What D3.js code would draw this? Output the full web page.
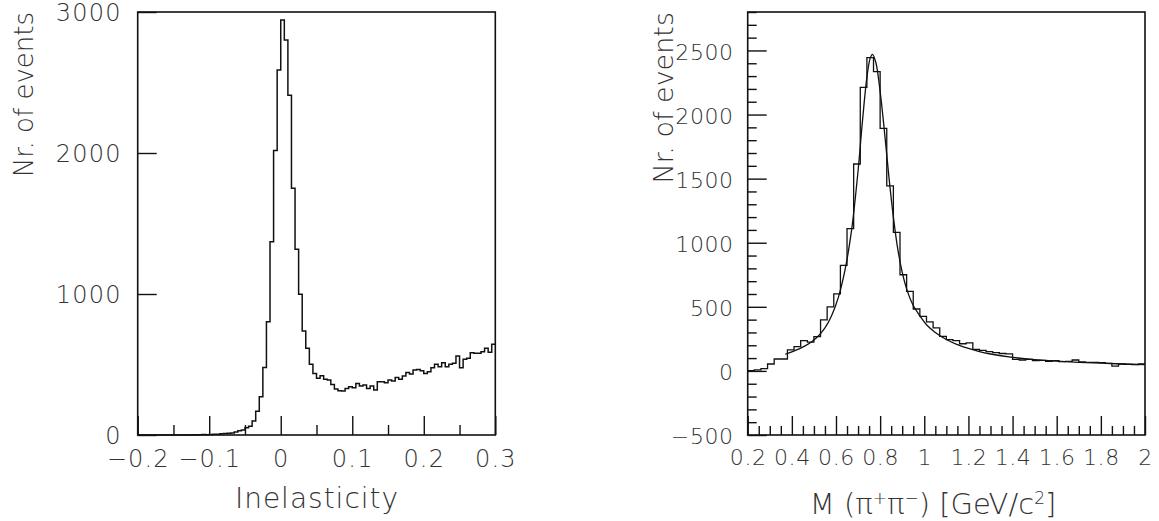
<!DOCTYPE html>
<html>
<head>
<meta charset="utf-8">
<script src="https://cdn.jsdelivr.net/npm/d3@7"></script>
<style>
  body { margin: 0; background: #fff; }
  text { font-family: "DejaVu Sans", sans-serif; font-weight: 200; fill: #333; }
</style>
</head>
<body>
<svg id="chart"></svg>
<script>
var width = 1159;
var height = 521;

// left histogram: inelasticity, 100 bins of 0.005 from -0.2 to 0.3
var inelBinStart = -0.2;
var inelBinWidth = 0.005;
var inelCounts = [
  0, 0, 0, 0, 0, 0, 0, 0, 0, 0,
  0, 0, 0, 0, 0, 2, 0, 2, 3, 2,
  4, 5, 6, 8, 10, 12, 14, 21, 30, 36,
  52, 62, 100, 168, 272, 478, 804, 1371, 2017, 2589,
  2943, 2801, 2409, 1750, 1317, 998, 738, 615, 501, 437,
  402, 420, 395, 390, 359, 326, 314, 312, 330, 342,
  335, 366, 347, 354, 330, 347, 319, 378, 378, 371,
  390, 383, 407, 395, 418, 444, 432, 461, 465, 456,
  437, 449, 477, 501, 484, 513, 484, 501, 508, 560,
  477, 537, 544, 584, 579, 579, 591, 615, 586, 643
];
var inelTicks = [-0.2, -0.1, 0, 0.1, 0.2, 0.3];
var inelYTicks = [0, 1000, 2000, 3000];

// right histogram: M(pi+ pi-), 60 bins of 0.03 from 0.2 to 2.0
var massBinStart = 0.2;
var massBinWidth = 0.03;
var massCounts = [
  3, 8, 18, 54, 93, 93, 164, 190, 237, 224,
  268, 398, 499, 601, 824, 1110, 1614, 2212, 2444, 2335,
  1892, 1443, 1081, 750, 620, 483, 425, 382, 335, 270,
  244, 236, 212, 218, 168, 160, 150, 142, 136, 133,
  90, 85, 90, 80, 82, 74, 80, 72, 74, 85,
  70, 67, 67, 64, 59, 38, 54, 51, 49, 54
];

// fitted curve
var fitX = [0.37, 0.40, 0.43, 0.46, 0.49, 0.52, 0.55, 0.58, 0.61, 0.64,
            0.67, 0.70, 0.72, 0.74, 0.755, 0.765, 0.78, 0.80, 0.82, 0.84,
            0.86, 0.88, 0.90, 0.92, 0.95, 0.98, 1.01, 1.05, 1.10, 1.15,
            1.20, 1.25, 1.30, 1.40, 1.50, 1.60, 1.70, 1.80, 1.90, 2.00];
var fitY = [130, 148, 170, 195, 228, 272, 335, 430, 570, 780,
            1090, 1560, 1950, 2290, 2440, 2470, 2410, 2180, 1860, 1510,
            1200, 950, 770, 640, 510, 430, 360, 300, 245, 205,
            175, 150, 132, 106, 88, 76, 67, 60, 54, 49];

var massTicks = [0.2, 0.4, 0.6, 0.8, 1, 1.2, 1.4, 1.6, 1.8, 2];
var massYTicks = [-500, 0, 500, 1000, 1500, 2000, 2500];

var svg = d3.select("#chart")
  .attr("width", width)
  .attr("height", height);

function fmt(d) {
  var s = String(+d.toFixed(2));
  return s.replace("-", "\u2212");
}

function stepPoints(start, w, counts) {
  var pts = counts.map(function(c, i) { return [start + i * w, c]; });
  pts.push([start + counts.length * w, counts[counts.length - 1]]);
  return pts;
}

// ---------- left panel ----------
var xL = d3.scaleLinear().domain([-0.2, 0.3]).range([137.7, 495.3]);
var yL = d3.scaleLinear().domain([0, 3000]).range([435, 12]);

var left = svg.append("g");

left.append("path")
  .datum(stepPoints(inelBinStart, inelBinWidth, inelCounts))
  .attr("fill", "none")
  .attr("stroke", "#111")
  .attr("stroke-width", 1.5)
  .attr("d", d3.line()
    .x(function(d) { return xL(d[0]); })
    .y(function(d) { return yL(d[1]); })
    .curve(d3.curveStepAfter));

var lxMinor = left.append("g").attr("transform", "translate(0,435)")
  .call(d3.axisBottom(xL).tickValues(d3.range(-0.15, 0.3, 0.1)).tickSizeInner(-10).tickSizeOuter(0).tickFormat(""));
var lxMajor = left.append("g").attr("transform", "translate(0,435)")
  .call(d3.axisBottom(xL).tickValues(inelTicks).tickSizeInner(-19).tickSizeOuter(0).tickPadding(15).tickFormat(fmt));
var lyMajor = left.append("g").attr("transform", "translate(137.7,0)")
  .call(d3.axisLeft(yL).tickValues(inelYTicks).tickSizeInner(-19).tickSizeOuter(0).tickPadding(16).tickFormat(fmt));

[lxMinor, lxMajor, lyMajor].forEach(function(g) {
  g.select(".domain").remove();
  g.selectAll("line").attr("stroke", "#111").attr("stroke-width", 1.4);
});
lxMajor.selectAll("text").style("font-size", "24px").attr("fill", "#333").attr("letter-spacing", "1.2");
lyMajor.selectAll("text").style("font-size", "24px").attr("fill", "#333").attr("letter-spacing", "1.2").attr("dy", "0.36em");

left.append("rect")
  .attr("x", 137.7).attr("y", 12)
  .attr("width", 495.3 - 137.7).attr("height", 423)
  .attr("fill", "none").attr("stroke", "#111").attr("stroke-width", 1.6);

left.append("text")
  .attr("x", 317).attr("y", 508)
  .attr("text-anchor", "middle")
  .style("font-size", "28px")
  .attr("letter-spacing", "1")
  .text("Inelasticity");

left.append("text")
  .attr("transform", "translate(33,12) rotate(-90)")
  .attr("text-anchor", "end")
  .style("font-size", "26px")
  .text("Nr. of events");

// ---------- right panel ----------
var xR = d3.scaleLinear().domain([0.2, 2.0]).range([747.7, 1145]);
var yR = d3.scaleLinear().domain([-500, 2800]).range([435, 12]);

var right = svg.append("g");

right.append("path")
  .datum(stepPoints(massBinStart, massBinWidth, massCounts))
  .attr("fill", "none")
  .attr("stroke", "#111")
  .attr("stroke-width", 1.3)
  .attr("d", d3.line()
    .x(function(d) { return xR(d[0]); })
    .y(function(d) { return yR(d[1]); })
    .curve(d3.curveStepAfter));

right.append("path")
  .datum(fitX.map(function(x, i) { return [x, fitY[i]]; }))
  .attr("fill", "none")
  .attr("stroke", "#111")
  .attr("stroke-width", 1.3)
  .attr("d", d3.line()
    .x(function(d) { return xR(d[0]); })
    .y(function(d) { return yR(d[1]); })
    .curve(d3.curveCatmullRom.alpha(0.5)));

var rxMinor = right.append("g").attr("transform", "translate(0,435)")
  .call(d3.axisBottom(xR).tickValues(d3.range(0.25, 2.0, 0.05).filter(function(v) {
      return Math.abs(v * 10 / 2 - Math.round(v * 10 / 2)) > 0.01;
    })).tickSizeInner(-9).tickSizeOuter(0).tickFormat(""));
var rxMajor = right.append("g").attr("transform", "translate(0,435)")
  .call(d3.axisBottom(xR).tickValues(massTicks).tickSizeInner(-19).tickSizeOuter(0).tickPadding(14).tickFormat(fmt));
var ryMinor = right.append("g").attr("transform", "translate(747.7,0)")
  .call(d3.axisLeft(yR).tickValues(d3.range(-400, 2801, 100).filter(function(v) { return v % 500 !== 0; }))
    .tickSizeInner(-9).tickSizeOuter(0).tickFormat(""));
var ryMajor = right.append("g").attr("transform", "translate(747.7,0)")
  .call(d3.axisLeft(yR).tickValues(massYTicks).tickSizeInner(-19).tickSizeOuter(0).tickPadding(14).tickFormat(fmt));

[rxMinor, rxMajor, ryMinor, ryMajor].forEach(function(g) {
  g.select(".domain").remove();
  g.selectAll("line").attr("stroke", "#111").attr("stroke-width", 1.4);
});
rxMajor.selectAll("text").style("font-size", "22px").attr("fill", "#333").attr("letter-spacing", "0.6");
ryMajor.selectAll("text").style("font-size", "22px").attr("fill", "#333").attr("letter-spacing", "0.6").attr("dy", "0.4em");

right.append("rect")
  .attr("x", 747.7).attr("y", 12)
  .attr("width", 1145 - 747.7).attr("height", 423)
  .attr("fill", "none").attr("stroke", "#111").attr("stroke-width", 1.6);

var title = right.append("text")
  .attr("x", 933).attr("y", 514)
  .attr("text-anchor", "middle")
  .style("font-size", "29px");
title.append("tspan").text("M (\u03c0");
title.append("tspan").attr("baseline-shift", "super").style("font-size", "17px").text("+");
title.append("tspan").text("\u03c0");
title.append("tspan").attr("baseline-shift", "super").style("font-size", "17px").text("\u2212");
title.append("tspan").text(") [GeV/c");
title.append("tspan").attr("baseline-shift", "super").style("font-size", "17px").text("2");
title.append("tspan").text("]");

right.append("text")
  .attr("transform", "translate(673,12) rotate(-90)")
  .attr("text-anchor", "end")
  .style("font-size", "27px")
  .text("Nr. of events");
</script>
</body>
</html>
